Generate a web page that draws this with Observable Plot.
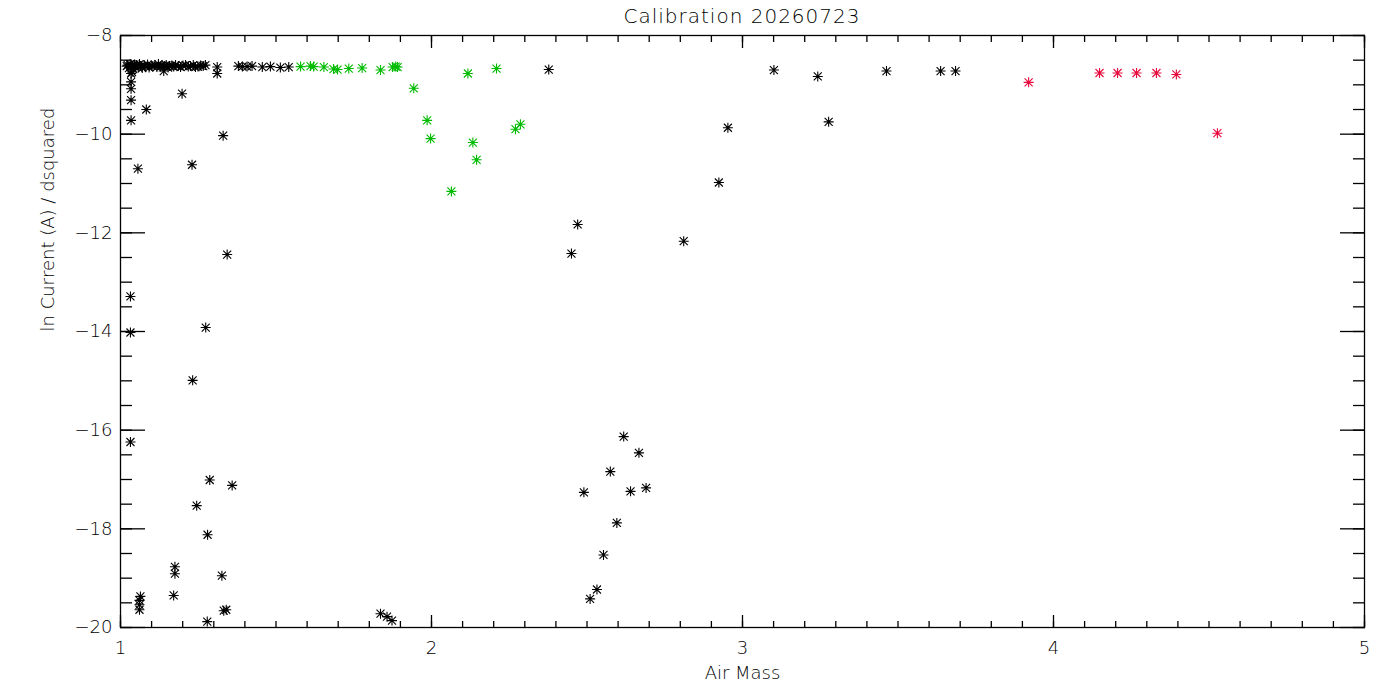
<!DOCTYPE html>
<html>
<head>
<meta charset="utf-8">
<script src="https://cdn.jsdelivr.net/npm/d3@7"></script>
<script src="https://cdn.jsdelivr.net/npm/@observablehq/plot@0.6"></script>
<style>
  body { margin: 0; background: #fff; }
  #wrap { position: relative; width: 1400px; height: 700px; }
  #title { position: absolute; top: 4px; left: 120px; width: 1244px; text-align: center;
           font-family: "DejaVu Sans", sans-serif; font-weight: 200; font-size: 20px; letter-spacing: 1px; color: #000; }
</style>
</head>
<body>
<div id="wrap">
  <div id="title">Calibration 20260723</div>
  <div id="chart"></div>
</div>
<script>
// black points (air mass, ln current / d^2)
const airBlack = [
  1.020, 1.023, 1.027, 1.031, 1.034, 1.038, 1.041, 1.045, 1.049, 1.052, 1.057, 1.061, 1.066, 1.070, 1.076,
  1.081, 1.087, 1.092, 1.099, 1.104, 1.111, 1.117, 1.122, 1.129, 1.134, 1.141, 1.147, 1.153, 1.158, 1.165,
  1.171, 1.177, 1.186, 1.193, 1.201, 1.209, 1.218, 1.225, 1.234, 1.241, 1.249, 1.257, 1.266, 1.273,
  1.311, 1.379, 1.392, 1.407, 1.423, 1.456, 1.482, 1.514, 1.541,
  1.037, 1.034, 1.139, 1.311, 1.034, 1.034, 1.034, 1.034, 1.083, 1.198, 1.330, 1.056, 1.230,
  1.343, 1.032, 1.032, 1.274, 1.232, 1.032, 1.287, 1.359, 1.245, 1.280, 1.175, 1.175, 1.326,
  1.171, 1.064, 1.061, 1.061, 1.061, 1.279, 1.332, 1.340, 1.836, 1.857, 1.873,
  2.377, 2.450, 2.470, 2.811, 2.924, 2.953, 3.101, 3.242, 3.277, 3.463, 3.637, 3.685,
  2.618, 2.667, 2.575, 2.490, 2.640, 2.690, 2.596, 2.553, 2.532, 2.510
];
const lnBlack = [
  -8.62, -8.60, -8.66, -8.58, -8.64, -8.61, -8.68, -8.59, -8.63, -8.60, -8.65, -8.58, -8.62, -8.66, -8.60,
  -8.63, -8.59, -8.65, -8.61, -8.62, -8.60, -8.64, -8.58, -8.63, -8.61, -8.62, -8.60, -8.65, -8.62, -8.61,
  -8.63, -8.60, -8.62, -8.64, -8.61, -8.60, -8.63, -8.62, -8.60, -8.64, -8.63, -8.61, -8.62, -8.60,
  -8.64, -8.62, -8.63, -8.63, -8.62, -8.64, -8.63, -8.65, -8.64,
  -8.74, -8.77, -8.72, -8.77, -8.94, -9.08, -9.31, -9.72, -9.50, -9.18, -10.03, -10.70, -10.62,
  -12.44, -13.29, -14.02, -13.92, -14.99, -16.24, -17.01, -17.12, -17.53, -18.12, -18.77, -18.91, -18.95,
  -19.35, -19.37, -19.45, -19.54, -19.64, -19.88, -19.66, -19.64, -19.72, -19.78, -19.86,
  -8.69, -12.42, -11.83, -12.17, -10.98, -9.87, -8.70, -8.83, -9.75, -8.72, -8.72, -8.72,
  -16.13, -16.46, -16.84, -17.26, -17.24, -17.17, -17.88, -18.53, -19.23, -19.42
];
// green points
const airGreen = [1.579, 1.611, 1.621, 1.654, 1.685, 1.698, 1.734, 1.777, 1.836, 1.875, 1.885, 1.891,
  1.943, 1.986, 1.997, 2.064, 2.117, 2.133, 2.145, 2.209, 2.270, 2.286];
const lnGreen = [-8.63, -8.62, -8.63, -8.64, -8.68, -8.69, -8.67, -8.66, -8.70, -8.64, -8.63, -8.64,
  -9.07, -9.72, -10.09, -11.16, -8.77, -10.17, -10.52, -8.67, -9.90, -9.80];
// red points
const airRed = [3.920, 4.148, 4.206, 4.267, 4.331, 4.395, 4.527];
const lnRed = [-8.95, -8.76, -8.76, -8.76, -8.76, -8.79, -9.98];

const xMajor = [1, 2, 3, 4, 5];
const yMajor = [-20, -18, -16, -14, -12, -10, -8];
const xMinor = d3.range(1, 5.001, 0.1);
const yMinor = d3.range(-20, -7.999, 0.5);

const toRows = (xs, ys, color) => xs.map((x, i) => ({air: x, ln: ys[i], color}));
const points = [
  ...toRows(airBlack, lnBlack, "black"),
  ...toRows(airGreen, lnGreen, "#00bb00"),
  ...toRows(airRed, lnRed, "#e8083c")
];

// 8-armed IDL style asterisk
const asterisk = {
  draw(ctx, size) {
    const r = Math.sqrt(size / Math.PI);
    const d = r * 0.8;
    ctx.moveTo(-r, 0); ctx.lineTo(r, 0);
    ctx.moveTo(0, -r); ctx.lineTo(0, r);
    ctx.moveTo(-d, -d); ctx.lineTo(d, d);
    ctx.moveTo(-d, d); ctx.lineTo(d, -d);
    ctx.moveTo(1, 0); ctx.arc(0, 0, 1, 0, 2 * Math.PI);
  }
};

const chart = Plot.plot({
  width: 1400,
  height: 700,
  marginLeft: 120,
  marginRight: 36,
  marginTop: 35,
  marginBottom: 73,
  x: {domain: [1, 5], axis: null},
  y: {domain: [-20, -8], axis: null},
  style: {fontFamily: "DejaVu Sans, sans-serif", fontSize: "18px", fontWeight: 200, color: "black", background: "white"},
  marks: [
    Plot.frame({stroke: "black", strokeWidth: 1.3}),
    // x ticks bottom + top
    Plot.axisX(xMinor, {anchor: "bottom", tickSize: -6, text: null, label: null, strokeWidth: 1.3}),
    Plot.axisX(xMinor, {anchor: "top", tickSize: -6, text: null, label: null, strokeWidth: 1.3}),
    Plot.axisX(xMajor, {anchor: "bottom", tickSize: -12, tickPadding: 26, tickFormat: d3.format("d"), label: null, strokeWidth: 1.3}),
    Plot.axisX(xMajor, {anchor: "top", tickSize: -12, text: null, label: null, strokeWidth: 1.3}),
    // y ticks left + right
    Plot.axisY(yMinor, {anchor: "left", tickSize: -12, text: null, label: null, strokeWidth: 1.3}),
    Plot.axisY(yMinor, {anchor: "right", tickSize: -12, text: null, label: null, strokeWidth: 1.3}),
    Plot.axisY(yMajor, {anchor: "left", tickSize: -25, tickPadding: 33, tickFormat: d3.format("d"), label: null, strokeWidth: 1.3}),
    Plot.axisY(yMajor, {anchor: "right", tickSize: -25, text: null, label: null, strokeWidth: 1.3}),
    Plot.text(["Air Mass"], {frameAnchor: "bottom", dy: 51, text: d => d, fontSize: 18}),
    Plot.text(["ln Current (A) / dsquared"], {frameAnchor: "left", dx: -72, rotate: -90, text: d => d, fontSize: 18}),
    Plot.dot(points, {x: "air", y: "ln", stroke: "color", symbol: asterisk, r: 5, strokeWidth: 1.1})
  ]
});

d3.select("#chart").append(() => chart);
</script>
</body>
</html>
